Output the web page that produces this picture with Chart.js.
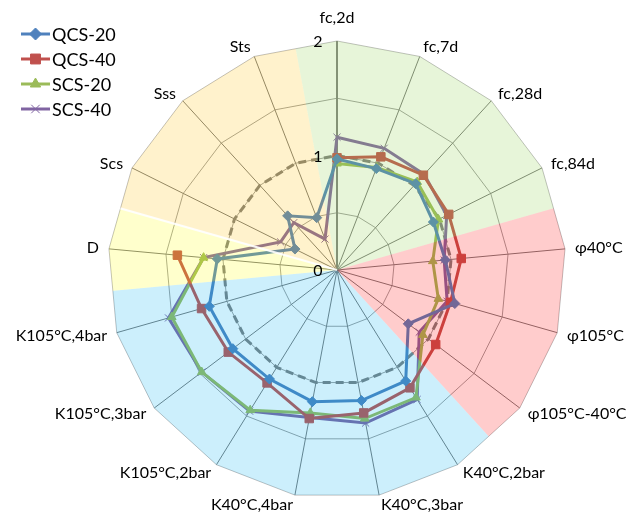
<!DOCTYPE html>
<html>
<head>
<meta charset="utf-8">
<script src="https://cdn.jsdelivr.net/npm/chart.js@4/dist/chart.umd.min.js"></script>
<style>
  html, body { margin: 0; padding: 0; background: #fff; }
  #wrap { width: 626px; height: 515px; }
</style>
</head>
<body>
<div id="wrap"><canvas id="radar"></canvas></div>
<script>
/*===============
data
====================*/
const labels = ['fc,2d', 'fc,7d', 'fc,28d', 'fc,84d', 'φ40°C', 'φ105°C', 'φ105°C-40°C',
    'K40°C,2bar', 'K40°C,3bar', 'K40°C,4bar', 'K105°C,2bar', 'K105°C,3bar', 'K105°C,4bar',
    'D', 'Scs', 'Sss', 'Sts'];
const qcs20 = [0.97, 0.95, 1.02, 0.94, 0.95, 1.07, 0.78, 1.14, 1.16, 1.17, 1.12, 1.14, 1.16, 1.05, 0.41, 0.64, 0.49];
const qcs40 = [0.98, 1.06, 1.12, 1.09, 1.09, 1.03, 1.08, 1.21, 1.27, 1.32, 1.16, 1.19, 1.23, 1.40, null, null, null];
const scs20 = [0.93, 0.96, 1.04, 0.99, 0.84, 0.92, 0.94, 1.31, 1.32, 1.27, 1.44, 1.48, 1.50, 1.17, null, null, null];
const scs40 = [1.16, 1.14, 1.13, 1.07, 0.94, 1.00, 0.90, 1.33, 1.36, 1.31, 1.45, 1.48, 1.53, 1.17, 0.55, 0.56, 0.29];
const reference = labels.map(() => 1);
const tickValues = [0, 1, 2];

// property groups shaded over the plot (first / last category index)
const groupFirst = [0, 4, 7, 13, 14];
const groupLast = [3, 6, 12, 13, 16];
const groupColors = ['rgba(146,208,80,0.22)', 'rgba(255,0,0,0.2)', 'rgba(0,176,240,0.2)',
    'rgba(255,255,0,0.2)', 'rgba(255,192,0,0.2)'];

const FONT = 'Lato, "Open Sans", sans-serif';

/*===============
plugins
====================*/
const groupShading = {
    id: 'groupShading',
    afterDatasetsDraw(chart) {
        const r = chart.scales.r;
        const ctx = chart.ctx;
        const n = labels.length;
        const half = Math.PI / n;
        ctx.save();
        ctx.beginPath();
        for (let i = 0; i < n; i++) {
            const p = r.getPointPositionForValue(i, 2);
            if (i === 0) ctx.moveTo(p.x, p.y); else ctx.lineTo(p.x, p.y);
        }
        ctx.closePath();
        ctx.clip();
        const big = r.drawingArea + 20;
        groupFirst.forEach((first, g) => {
            const a0 = r.getIndexAngle(first) - half - Math.PI / 2;
            const a1 = r.getIndexAngle(groupLast[g]) + half - Math.PI / 2;
            ctx.beginPath();
            ctx.moveTo(r.xCenter, r.yCenter);
            ctx.arc(r.xCenter, r.yCenter, big, a0, a1);
            ctx.closePath();
            ctx.fillStyle = groupColors[g];
            ctx.fill();
        });
        // white seam between D and S groups
        const a = r.getIndexAngle(14) - half - Math.PI / 2;
        ctx.beginPath();
        ctx.moveTo(r.xCenter, r.yCenter);
        ctx.lineTo(r.xCenter + big * Math.cos(a), r.yCenter + big * Math.sin(a));
        ctx.strokeStyle = 'rgba(255,255,255,0.9)';
        ctx.lineWidth = 2;
        ctx.stroke();
        ctx.restore();
    },
    afterDraw(chart) {
        const r = chart.scales.r;
        const ctx = chart.ctx;
        ctx.save();
        ctx.fillStyle = '#000';
        ctx.textBaseline = 'middle';
        // value labels left of the vertical axis
        ctx.font = '16px ' + FONT;
        ctx.textAlign = 'center';
        tickValues.forEach(v => {
            ctx.fillText(String(v), r.xCenter - 19, r.yCenter - r.getDistanceFromCenterForValue(v) + 1);
        });
        // category labels, placed just outside each spoke end
        ctx.font = '16px ' + FONT;
        labels.forEach((lab, i) => {
            const a = r.getIndexAngle(i) - Math.PI / 2;
            const dx = Math.cos(a);
            const dy = Math.sin(a);
            const p = r.getPointPositionForValue(i, 2);
            let x = p.x + dx * 10;
            let y = p.y + dy * 10;
            if (Math.abs(dx) < 0.05) {
                ctx.textAlign = 'center';
                y += dy * 13;
            } else {
                ctx.textAlign = dx > 0 ? 'left' : 'right';
            }
            ctx.fillText(lab, x, y);
        });
        ctx.restore();
    }
};

const lineLegend = {
    id: 'lineLegend',
    afterDraw(chart) {
        const ctx = chart.ctx;
        ctx.save();
        ctx.font = '18px ' + FONT;
        ctx.textBaseline = 'middle';
        ctx.textAlign = 'left';
        chart.data.datasets.forEach((ds, i) => {
            if (!ds.inLegend) return;
            const y = 34 + i * 25;
            ctx.beginPath();
            ctx.moveTo(21, y);
            ctx.lineTo(50, y);
            ctx.strokeStyle = ds.borderColor;
            ctx.lineWidth = 3;
            ctx.stroke();
            ctx.fillStyle = ds.pointBackgroundColor;
            ctx.strokeStyle = ds.pointBorderColor;
            ctx.lineWidth = ds.pointBorderWidth;
            Chart.helpers.drawPoint(ctx, {
                pointStyle: ds.pointStyle,
                radius: ds.pointRadius + 1,
                rotation: 0,
                borderWidth: ds.pointBorderWidth
            }, 35.5, y);
            ctx.fillStyle = '#000';
            ctx.fillText(ds.label, 52, y + 1);
        });
        ctx.restore();
    }
};

/*===============
radar chart
====================*/
const radarChart = document.getElementById('radar');
if (radarChart) {
    new Chart(radarChart, {
        type: 'radar',
        data: {
            labels: labels,
            datasets: [
                {
                    label: 'QCS-20',
                    data: qcs20,
                    inLegend: true,
                    borderColor: '#4f81bd',
                    backgroundColor: '#4f81bd',
                    pointBackgroundColor: '#4f81bd',
                    pointBorderColor: '#4f81bd',
                    pointStyle: 'rectRot',
                    pointRadius: 5,
                    pointBorderWidth: 1,
                    borderWidth: 3,
                    fill: false
                },
                {
                    label: 'QCS-40',
                    data: qcs40,
                    inLegend: true,
                    borderColor: '#c0504d',
                    backgroundColor: '#c0504d',
                    pointBackgroundColor: '#c0504d',
                    pointBorderColor: '#c0504d',
                    pointStyle: 'rect',
                    pointRadius: 6,
                    pointBorderWidth: 1,
                    borderWidth: 3,
                    fill: false
                },
                {
                    label: 'SCS-20',
                    data: scs20,
                    inLegend: true,
                    borderColor: '#9bbb59',
                    backgroundColor: '#9bbb59',
                    pointBackgroundColor: '#9bbb59',
                    pointBorderColor: '#9bbb59',
                    pointStyle: 'triangle',
                    pointRadius: 5,
                    pointBorderWidth: 1,
                    borderWidth: 3,
                    fill: false
                },
                {
                    label: 'SCS-40',
                    data: scs40,
                    inLegend: true,
                    borderColor: '#8064a2',
                    backgroundColor: '#8064a2',
                    pointBackgroundColor: '#8064a2',
                    pointBorderColor: '#8064a2',
                    pointStyle: 'crossRot',
                    pointRadius: 5,
                    pointBorderWidth: 1,
                    borderWidth: 3,
                    fill: false
                },
                {
                    label: 'Reference',
                    data: reference,
                    inLegend: false,
                    borderColor: '#7f7f7f',
                    borderDash: [8, 5],
                    borderWidth: 3,
                    pointRadius: 0,
                    fill: false
                }
            ]
        },
        options: {
            responsive: true,
            maintainAspectRatio: false,
            animation: false,
            spanGaps: false,
            layout: {
                padding: { left: 108, right: 60, top: 41, bottom: 16 }
            },
            plugins: {
                legend: { display: false },
                tooltip: { enabled: false }
            },
            elements: {
                line: { tension: 0 }
            },
            scales: {
                r: {
                    min: 0,
                    max: 2,
                    ticks: { display: false, stepSize: 0.5 },
                    grid: {
                        color: ctx => ctx.tick && ctx.tick.value === 2 ? '#bfbfbf' : '#a0a0a0',
                        lineWidth: 1
                    },
                    angleLines: {
                        color: ctx => ctx.index === 0 ? '#808080' : '#7a7a7a',
                        lineWidth: ctx => ctx.index === 0 ? 2 : 1
                    },
                    pointLabels: { display: false }
                }
            }
        },
        plugins: [groupShading, lineLegend]
    });
}
</script>
</body>
</html>
